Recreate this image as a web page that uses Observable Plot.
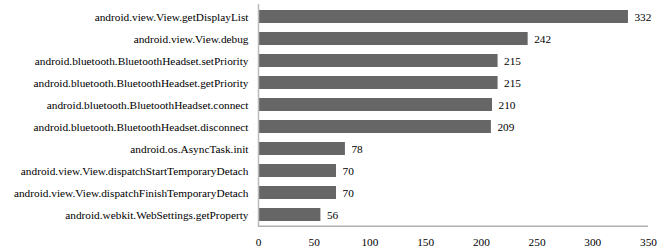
<!DOCTYPE html>
<html>
<head>
<meta charset="utf-8">
<script src="https://cdn.jsdelivr.net/npm/d3@7"></script>
<script src="https://cdn.jsdelivr.net/npm/@observablehq/plot@0.6"></script>
<style>
  html, body { margin: 0; padding: 0; background: #fff; }
  #chart svg { display: block; }
</style>
</head>
<body>
<div id="chart"></div>
<script>
const methods = [
  "android.view.View.getDisplayList",
  "android.view.View.debug",
  "android.bluetooth.BluetoothHeadset.setPriority",
  "android.bluetooth.BluetoothHeadset.getPriority",
  "android.bluetooth.BluetoothHeadset.connect",
  "android.bluetooth.BluetoothHeadset.disconnect",
  "android.os.AsyncTask.init",
  "android.view.View.dispatchStartTemporaryDetach",
  "android.view.View.dispatchFinishTemporaryDetach",
  "android.webkit.WebSettings.getProperty"
];
const counts = [332, 242, 215, 215, 210, 209, 78, 70, 70, 56];
const xTicks = [0, 50, 100, 150, 200, 250, 300, 350];

const data = methods.map((m, i) => ({method: m, count: counts[i]}));
const fs = 11.3;

const chart = Plot.plot({
  width: 666,
  height: 251,
  marginTop: 4,
  marginBottom: 24,
  marginLeft: 258,
  marginRight: 18,
  style: {fontFamily: "'Liberation Serif', 'Times New Roman', serif", fontSize: fs + "px", color: "#000", background: "#fff"},
  x: {domain: [0, 350], axis: null, label: null},
  y: {domain: methods, axis: null, label: null, paddingInner: 0.42, paddingOuter: 0.21},
  marks: [
    Plot.barX(data, {x: "count", y: "method", fill: "#666666"}),
    Plot.text(data, {x: "count", y: "method", text: d => String(d.count), textAnchor: "start", dx: 6, fill: "#000", fontSize: fs}),
    Plot.ruleX([0], {stroke: "#bababa", strokeWidth: 1.5}),
    Plot.ruleY([methods[methods.length - 1]], {dy: 11.15, stroke: "#b0b0b0", strokeWidth: 1.5}),
    Plot.axisX(xTicks, {anchor: "bottom", label: null, tickSize: 0, tickPadding: 10, fontSize: fs, fill: "#000"}),
    Plot.axisY({anchor: "left", label: null, tickSize: 0, tickPadding: 10, fontSize: fs, fill: "#000"})
  ]
});
document.getElementById("chart").appendChild(chart);
</script>
</body>
</html>
